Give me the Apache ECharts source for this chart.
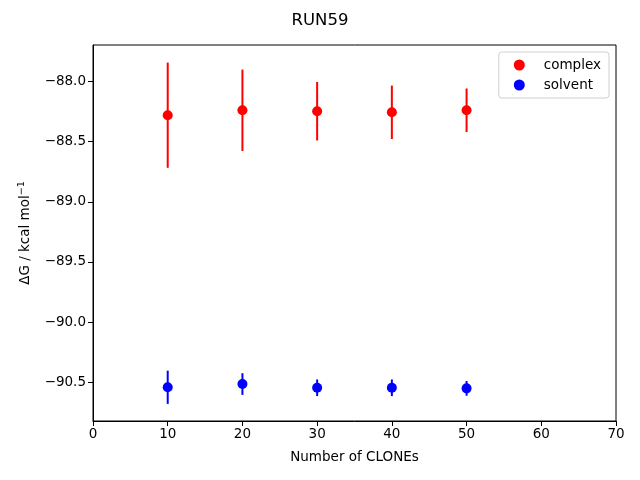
<!DOCTYPE html>
<html><head><meta charset="utf-8">
<script src="https://cdn.jsdelivr.net/npm/echarts@6/dist/echarts.min.js"></script>
<style>html,body{margin:0;padding:0;background:#fff}#c{width:640px;height:480px}</style>
</head><body><div id="c"></div>
<script>
const clones = [10, 20, 30, 40, 50];
const complexVals = [-88.281, -88.240, -88.248, -88.257, -88.240];
const complexErr = [0.437, 0.338, 0.243, 0.222, 0.181];
const solventVals = [-90.541, -90.514, -90.545, -90.545, -90.550];
const solventErr = [0.138, 0.090, 0.069, 0.069, 0.061];
const yTicks = [-90.5, -90.0, -89.5, -89.0, -88.5, -88.0];
const xTicks = [0, 10, 20, 30, 40, 50, 60, 70];

const font = 'DejaVu Sans';
function fmt(v){ return (v < 0 ? '\u2212' : '') + Math.abs(v).toFixed(1); }

function errSeries(vals, errs, color){
  return {
    type: 'custom',
    silent: true,
    z: 1,
    data: clones.map((c, i) => [c, vals[i] - errs[i], vals[i] + errs[i]]),
    renderItem: function(params, api){
      const p1 = api.coord([api.value(0), api.value(1)]);
      const p2 = api.coord([api.value(0), api.value(2)]);
      return { type: 'line', shape: {x1: p1[0], y1: p1[1], x2: p2[0], y2: p2[1]},
               style: {stroke: color, lineWidth: 2} };
    }
  };
}

const chart = echarts.init(document.getElementById('c'), null, {renderer: 'canvas'});
chart.setOption({
  animation: false,
  backgroundColor: '#fff',
  title: { text: 'RUN59', left: 'center', top: 7,
           textStyle: {fontFamily: font, fontSize: 16.5, fontWeight: 'normal', color: '#000'} },
  grid: { left: 93, right: 24, top: 45, bottom: 59, show: true, borderColor: '#000', borderWidth: 1 },
  legend: {
    right: 31, top: 52, orient: 'vertical', itemGap: 6, itemWidth: 11, itemHeight: 11,
    padding: [6, 8, 6, 15],
    borderColor: '#d0d0d0', borderWidth: 1, borderRadius: 3,
    textStyle: {fontFamily: font, fontSize: 13.5, color: '#000', padding: [0, 0, 0, 14]},
    data: [{name: 'complex', icon: 'circle'}, {name: 'solvent', icon: 'circle'}]
  },
  xAxis: {
    type: 'value', min: 0, max: 70, interval: 10,
    name: 'Number of CLONEs', nameLocation: 'middle', nameGap: 29,
    nameTextStyle: {fontFamily: font, fontSize: 13.5, color: '#000'},
    axisLine: {show: true, lineStyle: {color: '#000'}},
    axisTick: {show: true, length: 5, lineStyle: {color: '#000'}},
    axisLabel: {fontFamily: font, fontSize: 13.5, color: '#000', margin: 6},
    splitLine: {show: false}
  },
  yAxis: {
    type: 'value', min: -90.821, max: -87.698,
    name: '{a|\u0394G / kcal mol}{b|\u22121}', nameLocation: 'middle', nameGap: 60,
    nameTextStyle: {fontFamily: font, fontSize: 13.5, color: '#000',
      rich: { a: {fontFamily: font, fontSize: 13.5, color: '#000'},
              b: {fontFamily: font, fontSize: 9.5, color: '#000', verticalAlign: 'top', padding: [0,0,6,0]} } },
    axisLine: {show: true, lineStyle: {color: '#000'}},
    axisTick: {show: true, length: 5, lineStyle: {color: '#000'}, customValues: yTicks},
    axisLabel: {fontFamily: font, fontSize: 13.5, color: '#000', margin: 7, customValues: yTicks, formatter: fmt},
    splitLine: {show: false}
  },
  series: [
    errSeries(complexVals, complexErr, '#ff0000'),
    errSeries(solventVals, solventErr, '#0000ff'),
    { name: 'complex', type: 'scatter', z: 2, symbolSize: 10, itemStyle: {color: '#ff0000', opacity: 1},
      data: clones.map((c, i) => [c, complexVals[i]]) },
    { name: 'solvent', type: 'scatter', z: 2, symbolSize: 10, itemStyle: {color: '#0000ff', opacity: 1},
      data: clones.map((c, i) => [c, solventVals[i]]) }
  ]
});
</script></body></html>
